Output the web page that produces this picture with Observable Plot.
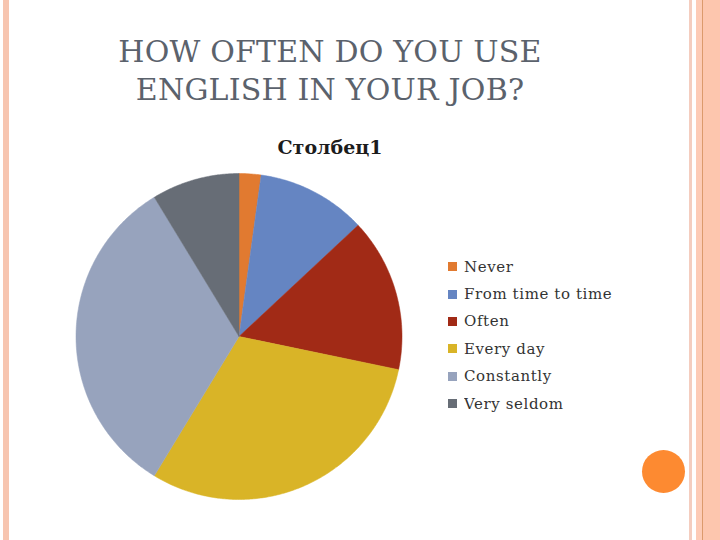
<!DOCTYPE html>
<html>
<head>
<meta charset="utf-8">
<script src="https://cdn.jsdelivr.net/npm/d3@7"></script>
<script src="https://cdn.jsdelivr.net/npm/@observablehq/plot@0.6"></script>
<style>
  html, body { margin: 0; padding: 0; background: #fff; }
  #slide { position: relative; width: 720px; height: 540px; overflow: hidden; background: #fff; }
  #chart { position: absolute; left: 0; top: 0; }
  #chart svg { background: transparent !important; }
  .deco { position: absolute; }
  #title { position: absolute; left: 0; top: 33px; width: 660px; text-align: center;
    font-family: "DejaVu Serif", serif; font-size: 30px; line-height: 38px; color: #5b626c; letter-spacing: 0.2px; }
  #pietitle { position: absolute; left: 230px; top: 136px; width: 200px; text-align: center;
    font-family: "DejaVu Serif", serif; font-weight: bold; font-size: 19px; color: #1c1c1c; }
  #legend { position: absolute; left: 448px; top: 253px; }
  .lg-swatches { font-family: "DejaVu Serif", serif !important; font-size: 15px !important; color: #333; margin: 0 !important; letter-spacing: 0.6px; }
  .lg-swatch { height: 27.4px; padding: 0 !important; }
  .lg-swatch > svg { margin-right: 7px !important; }
</style>
</head>
<body>
<div id="slide">
  <div id="chart"></div>
  <div class="deco" style="left:3px;top:0;width:6px;height:540px;background:#f7c5b0;"></div>
  <div class="deco" style="left:689px;top:0;width:3px;height:540px;background:#f4cdbf;"></div>
  <div class="deco" style="left:696px;top:0;width:6px;height:540px;background:#fdcbb6;"></div>
  <div class="deco" style="left:702px;top:0;width:1px;height:540px;background:#dc9a6c;"></div>
  <div class="deco" style="left:703px;top:0;width:17px;height:540px;background:#fdc6ae;"></div>
  <div class="deco" style="left:642px;top:450px;width:43px;height:43px;border-radius:50%;background:#fd8a31;"></div>
  <div id="title">HOW OFTEN DO YOU USE<br>ENGLISH IN YOUR JOB?</div>
  <div id="pietitle">Столбец1</div>
  <div id="legend"></div>
</div>
<script>
const categories = ["Never", "From time to time", "Often", "Every day", "Constantly", "Very seldom"];
const counts = [1, 5, 7, 14, 15, 4];
const colors = ["#e17a30", "#6585c2", "#a12a16", "#d9b427", "#97a3bd", "#676d76"];

// slice outlines from d3.pie angles (clockwise from 12 o'clock)
const arcs = d3.pie().sort(null).value((d, i) => counts[i])(categories);
const pts = [];
arcs.forEach((a, i) => {
  const cat = categories[i];
  pts.push({cat, x: 0, y: 0});
  const n = Math.max(2, Math.ceil((a.endAngle - a.startAngle) / 0.01));
  for (let k = 0; k <= n; k++) {
    const t = a.startAngle + (a.endAngle - a.startAngle) * k / n;
    pts.push({cat, x: Math.sin(t), y: Math.cos(t)});
  }
  pts.push({cat, x: 0, y: 0});
});

const chart = Plot.plot({
  width: 720,
  height: 540,
  margin: 0,
  x: {domain: [-1, 1], range: [75.5, 401.5], axis: null},
  y: {domain: [-1, 1], range: [499, 173], axis: null},
  color: {type: "ordinal", domain: categories, range: colors},
  style: {background: "transparent"},
  marks: [
    Plot.line(pts, {x: "x", y: "y", z: "cat", fill: "cat", stroke: "cat", strokeWidth: 0.5, curve: "linear"})
  ]
});
document.getElementById("chart").appendChild(chart);

const legend = Plot.legend({
  color: {type: "ordinal", domain: categories, range: colors},
  legend: "swatches",
  columns: 1,
  swatchSize: 9,
  className: "lg"
});
document.getElementById("legend").appendChild(legend);
</script>
</body>
</html>
